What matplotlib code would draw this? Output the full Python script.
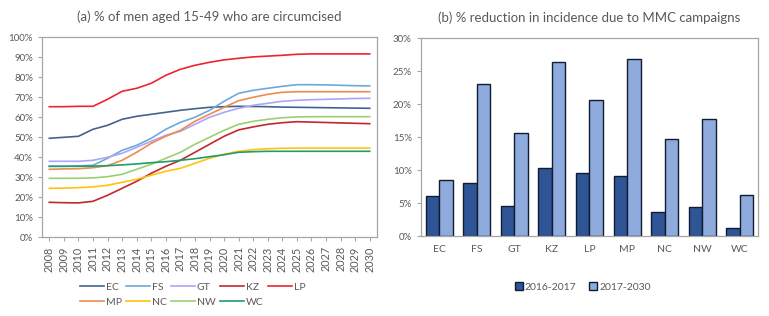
import matplotlib
matplotlib.use('Agg')
import matplotlib.pyplot as plt
from matplotlib.ticker import PercentFormatter
import numpy as np

plt.rcParams['font.family'] = ['Lato', 'DejaVu Sans']

# ---- data: panel (a), % circumcised ----
years = list(range(2008, 2031))
provinces = ['EC', 'FS', 'GT', 'KZ', 'LP', 'MP', 'NC', 'NW', 'WC']

ec = [49.5, 50.0, 50.5, 54.0, 56.0, 59.0, 60.5, 61.5, 62.5, 63.5, 64.3, 65.0, 65.3, 65.5,
      65.4, 65.3, 65.1, 65.0, 64.9, 64.8, 64.7, 64.6, 64.5]
fs = [35.5, 35.5, 35.7, 36.0, 39.5, 43.5, 46.0, 49.5, 54.0, 57.5, 60.0, 63.5, 68.0, 72.0,
      73.5, 74.5, 75.5, 76.3, 76.3, 76.2, 76.0, 75.8, 75.7]
gt = [38.0, 38.0, 38.0, 38.5, 40.0, 42.0, 45.0, 48.0, 51.0, 53.0, 56.5, 60.0, 62.5, 64.5,
      66.0, 67.0, 68.0, 68.5, 68.8, 69.0, 69.2, 69.4, 69.5]
kz = [17.5, 17.3, 17.2, 18.0, 21.0, 24.5, 28.0, 32.0, 35.5, 38.5, 42.5, 46.5, 50.5, 53.7,
      55.2, 56.5, 57.3, 57.8, 57.6, 57.4, 57.2, 57.0, 56.8]
lp = [65.3, 65.3, 65.5, 65.5, 69.0, 73.0, 74.5, 77.0, 81.0, 84.0, 86.0, 87.5, 88.7, 89.5,
      90.2, 90.6, 91.0, 91.5, 91.7, 91.7, 91.7, 91.7, 91.7]
mp = [34.0, 34.2, 34.3, 34.8, 35.8, 38.5, 42.5, 47.0, 50.5, 53.5, 58.0, 61.5, 65.0, 68.3,
      70.0, 71.5, 72.5, 72.8, 72.8, 72.8, 72.8, 72.8, 72.8]
nc = [24.5, 24.6, 24.8, 25.2, 26.0, 27.5, 29.0, 31.0, 33.0, 34.5, 37.0, 39.5, 41.5, 43.0,
      43.8, 44.3, 44.5, 44.6, 44.6, 44.6, 44.6, 44.6, 44.6]
nw = [29.5, 29.5, 29.5, 29.7, 30.3, 31.5, 34.0, 36.5, 39.5, 42.5, 46.5, 50.0, 53.5, 56.5,
      58.0, 59.0, 59.8, 60.2, 60.3, 60.3, 60.3, 60.3, 60.3]
wc = [35.5, 35.5, 35.5, 35.6, 35.8, 36.2, 36.7, 37.3, 37.8, 38.5, 39.3, 40.3, 41.3, 42.5,
      42.8, 43.0, 43.0, 43.0, 43.0, 43.0, 43.0, 43.0, 43.0]

# ---- data: panel (b), % reduction in incidence ----
red_2016_2017 = [6.1, 8.1, 4.6, 10.4, 9.6, 9.2, 3.7, 4.4, 1.2]
red_2017_2030 = [8.6, 23.1, 15.7, 26.4, 20.6, 26.8, 14.8, 17.7, 6.3]

line_colors = ['#44628F', '#6FA8DC', '#ABA6F5', '#C0282D', '#EE2530',
               '#EE8B4E', '#FFC20E', '#9BD071', '#1E9E6A']
text_col = '#595959'
spine_col = '#A6A6A6'

fig = plt.figure(figsize=(7.69, 3.16), dpi=100)
ax1 = fig.add_axes([42 / 769, 1 - 237.3 / 316, 335 / 769, 200 / 316])
ax2 = fig.add_axes([420.7 / 769, 1 - 236.3 / 316, 337.6 / 769, 198 / 316])

# panel (a)
series = [ec, fs, gt, kz, lp, mp, nc, nw, wc]
x = np.arange(len(years))
handles = {}
for name, vals, col in zip(provinces, series, line_colors):
    h, = ax1.plot(x, vals, color=col, lw=1.2, label=name)
    handles[name] = h

ax1.set_xlim(-0.5, len(years) - 0.5)
ax1.set_ylim(0, 100)
ax1.set_yticks(range(0, 101, 10))
ax1.yaxis.set_major_formatter(PercentFormatter(decimals=0))
ax1.set_xticks(x)
ax1.set_xticklabels([str(y) for y in years], rotation=90)
ax1.set_title('(a) % of men aged 15-49 who are circumcised', fontsize=9.5,
              color=text_col, pad=12)

# column-major order so rows read EC..LP / MP..WC
order = ['EC', 'MP', 'FS', 'NC', 'GT', 'NW', 'KZ', 'WC', 'LP']
ax1.legend([handles[k] for k in order], order, ncol=5, frameon=False,
           loc='upper center', bbox_to_anchor=(0.45, -0.205), fontsize=7.5,
           labelcolor=text_col, handlelength=2.3, handletextpad=0.15,
           columnspacing=0.45, labelspacing=0.55, borderaxespad=0)

# panel (b)
xb = np.arange(len(provinces))
w = 0.36
ax2.bar(xb - w / 2, red_2016_2017, w, color='#2F5597', edgecolor='#101C30',
        linewidth=1.0, label='2016-2017')
ax2.bar(xb + w / 2, red_2017_2030, w, color='#8FAADC', edgecolor='#101C30',
        linewidth=1.0, label='2017-2030')
ax2.set_xlim(-0.5, len(provinces) - 0.5)
ax2.set_ylim(0, 30)
ax2.set_yticks(range(0, 31, 5))
ax2.yaxis.set_major_formatter(PercentFormatter(decimals=0))
ax2.set_xticks(xb)
ax2.set_xticklabels(provinces)
ax2.set_title('(b) % reduction in incidence due to MMC campaigns', fontsize=9.5,
              color=text_col, pad=12)
ax2.legend(ncol=2, frameon=False, loc='upper center', bbox_to_anchor=(0.48, -0.21),
           fontsize=7.5, labelcolor=text_col, handlelength=0.8, handleheight=0.8,
           handletextpad=0.2, columnspacing=1.2, borderaxespad=0)

for ax in (ax1, ax2):
    for s in ax.spines.values():
        s.set_color(spine_col)
        s.set_linewidth(0.9)
    ax.tick_params(colors=spine_col, labelcolor=text_col, labelsize=7, length=3)

ax1.tick_params(axis='x', length=3, labelsize=7.8)
ax2.tick_params(axis='x', length=0, pad=6, labelsize=7.5)

plt.savefig('out.png', dpi=100)
